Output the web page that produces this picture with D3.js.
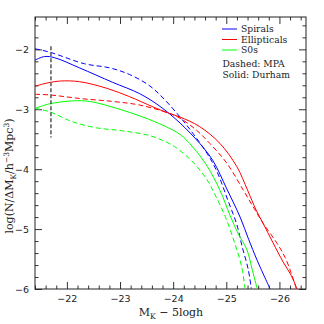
<!DOCTYPE html>
<html>
<head>
<meta charset="utf-8">
<script src="https://cdn.jsdelivr.net/npm/d3@7"></script>
<style>
  body { margin: 0; background: #fff; }
  svg { display: block; }
</style>
</head>
<body>
<div id="chart"></div>
<script>
// luminosity functions, [M_K - 5logh, log(N/dM/h^-3Mpc^3)]
const spiralsDurham = [
  [-21.4, -2.18], [-21.58, -2.12], [-21.77, -2.14], [-22.24, -2.31], [-22.86, -2.55],
  [-23.37, -2.74], [-23.75, -2.95], [-24.13, -3.23], [-24.5, -3.57],
  [-24.75, -3.86], [-25.01, -4.33], [-25.26, -4.8], [-25.42, -5.17], [-25.58, -5.52],
  [-25.82, -5.99]
]
const spiralsMPA = [
  [-21.4, -1.99], [-21.69, -2.05], [-22.33, -2.24], [-22.81, -2.31], [-23.18, -2.42],
  [-23.56, -2.61], [-23.84, -2.84], [-24.13, -3.13], [-24.37, -3.4], [-24.64, -3.74],
  [-24.82, -4.03], [-25.03, -4.52], [-25.2, -4.93], [-25.3, -5.3], [-25.41, -5.66],
  [-25.47, -5.99]
]
const ellipticalsDurham = [
  [-21.4, -2.62], [-21.54, -2.58], [-21.86, -2.53], [-22.24, -2.54], [-22.75, -2.65],
  [-23.18, -2.79], [-23.62, -2.96], [-23.9, -3.06], [-24.13, -3.13], [-24.5, -3.29],
  [-24.88, -3.57], [-25.2, -3.96], [-25.4, -4.35], [-25.56, -4.68], [-25.69, -4.9],
  [-25.88, -5.23], [-26.07, -5.55], [-26.22, -5.77], [-26.33, -6.0]
]
const ellipticalsMPA = [
  [-21.4, -2.75], [-21.67, -2.76], [-22.24, -2.82], [-22.87, -2.87], [-23.37, -2.93],
  [-23.9, -3.06], [-24.13, -3.15], [-24.44, -3.35], [-24.69, -3.57], [-25.01, -3.9],
  [-25.32, -4.35], [-25.52, -4.65], [-25.69, -4.9], [-25.95, -5.23], [-26.11, -5.48],
  [-26.24, -5.78], [-26.32, -6.0]
]
const s0sDurham = [
  [-21.4, -2.985], [-21.67, -2.91], [-22.11, -2.86], [-22.43, -2.87], [-22.94, -2.985],
  [-23.43, -3.13], [-23.84, -3.28], [-24.13, -3.42], [-24.37, -3.63], [-24.64, -3.95],
  [-24.88, -4.35], [-25.07, -4.77], [-25.22, -5.07], [-25.39, -5.35], [-25.48, -5.65],
  [-25.58, -5.99]
]
const s0sMPA = [
  [-21.4, -2.985], [-21.67, -3.04], [-22.11, -3.21], [-22.56, -3.31], [-23.05, -3.36],
  [-23.56, -3.44], [-23.9, -3.56], [-24.07, -3.65], [-24.37, -3.88], [-24.64, -4.18],
  [-24.79, -4.43], [-24.98, -4.79], [-25.16, -5.24], [-25.29, -5.63], [-25.35, -5.99]
]

// completeness limit marker
const limitMag = -21.7
const limitLog = [-1.95, -3.47]

const legendNames = ['Spirals', 'Ellipticals', 'S0s']
const legendColors = ['#0000ff', '#ff0000', '#00ff00']
const legendNotes = ['Dashed: MPA', 'Solid: Durham']

const xTicks = [-22, -23, -24, -25, -26]
const yTicks = [-2, -3, -4, -5, -6]

const width = 324
const height = 324
const plotLeft = 35
const plotRight = 306
const plotTop = 17
const plotBottom = 289

const svg = d3
  .select('#chart')
  .append('svg')
  .attr('width', width)
  .attr('height', height)

const x = d3.scaleLinear().domain([-21.4, -26.5]).range([plotLeft, plotRight])
const y = d3.scaleLinear().domain([-6, -1.46]).range([plotBottom, plotTop])

const xMinor = d3.range(-21.4, -26.55, -0.2).filter(v => Math.abs(v - Math.round(v)) > 0.01)
const yMinor = d3.range(-6, -1.4, 0.2).filter(v => Math.abs(v - Math.round(v)) > 0.01)

svg.append('clipPath').attr('id', 'plot-clip')
  .append('rect')
  .attr('x', plotLeft).attr('y', plotTop)
  .attr('width', plotRight - plotLeft).attr('height', plotBottom - plotTop)

const tickColor = '#333'
const fmt = d3.format('d')

function styleAxis(g) {
  g.select('.domain').remove()
  g.selectAll('.tick line').attr('stroke', tickColor)
  g.selectAll('.tick text')
    .attr('fill', '#222')
    .style('font-family', '"DejaVu Sans", sans-serif')
    .style('font-size', '9.5px')
}

// bottom
svg.append('g').attr('transform', `translate(0,${plotBottom})`)
  .call(d3.axisBottom(x).tickValues(xTicks).tickSize(-7).tickPadding(6).tickFormat(fmt))
  .call(styleAxis)
svg.append('g').attr('transform', `translate(0,${plotBottom})`)
  .call(d3.axisBottom(x).tickValues(xMinor).tickSize(-3.5).tickFormat(''))
  .call(styleAxis)
// top
svg.append('g').attr('transform', `translate(0,${plotTop})`)
  .call(d3.axisTop(x).tickValues(xTicks).tickSize(-7).tickFormat(''))
  .call(styleAxis)
svg.append('g').attr('transform', `translate(0,${plotTop})`)
  .call(d3.axisTop(x).tickValues(xMinor).tickSize(-3.5).tickFormat(''))
  .call(styleAxis)
// left
svg.append('g').attr('transform', `translate(${plotLeft},0)`)
  .call(d3.axisLeft(y).tickValues(yTicks).tickSize(-7).tickPadding(6).tickFormat(fmt))
  .call(styleAxis)
svg.append('g').attr('transform', `translate(${plotLeft},0)`)
  .call(d3.axisLeft(y).tickValues(yMinor).tickSize(-3.5).tickFormat(''))
  .call(styleAxis)
// right
svg.append('g').attr('transform', `translate(${plotRight},0)`)
  .call(d3.axisRight(y).tickValues(yTicks).tickSize(-7).tickFormat(''))
  .call(styleAxis)
svg.append('g').attr('transform', `translate(${plotRight},0)`)
  .call(d3.axisRight(y).tickValues(yMinor).tickSize(-3.5).tickFormat(''))
  .call(styleAxis)

svg.append('rect')
  .attr('x', plotLeft).attr('y', plotTop)
  .attr('width', plotRight - plotLeft).attr('height', plotBottom - plotTop)
  .attr('fill', 'none')
  .attr('stroke', '#222')
  .attr('stroke-width', 1)

// smooth the sampled curves
const line = d3.line()
  .x(d => x(d[0]))
  .y(d => y(d[1]))
  .curve(d3.curveCatmullRom.alpha(0.5))

const series = [
  { data: spiralsMPA, color: legendColors[0], dashed: true },
  { data: ellipticalsMPA, color: legendColors[1], dashed: true },
  { data: s0sMPA, color: legendColors[2], dashed: true },
  { data: spiralsDurham, color: legendColors[0], dashed: false },
  { data: ellipticalsDurham, color: legendColors[1], dashed: false },
  { data: s0sDurham, color: legendColors[2], dashed: false },
]

const curves = svg.append('g').attr('clip-path', 'url(#plot-clip)')

curves.selectAll('path.lf')
  .data(series)
  .enter()
  .append('path')
  .attr('class', 'lf')
  .attr('fill', 'none')
  .attr('stroke', d => d.color)
  .attr('stroke-width', 1)
  .attr('stroke-dasharray', d => (d.dashed ? '5,3' : null))
  .attr('d', d => line(d.data))

curves.append('line')
  .attr('x1', x(limitMag)).attr('x2', x(limitMag))
  .attr('y1', y(limitLog[0])).attr('y2', y(limitLog[1]))
  .attr('stroke', '#555')
  .attr('stroke-width', 1.5)
  .attr('stroke-dasharray', '4,2')

// legend
const serif = '"DejaVu Serif", serif'
const legend = svg.append('g')
legend.selectAll('line')
  .data(legendNames)
  .enter()
  .append('line')
  .attr('x1', 222).attr('x2', 237)
  .attr('y1', (_, i) => 29 + i * 10.5)
  .attr('y2', (_, i) => 29 + i * 10.5)
  .attr('stroke', (_, i) => legendColors[i])
  .attr('stroke-width', 1)
legend.selectAll('text.name')
  .data(legendNames)
  .enter()
  .append('text')
  .attr('class', 'name')
  .attr('x', 241)
  .attr('y', (_, i) => 32.2 + i * 10.5)
  .style('font-family', serif)
  .style('font-size', '9.2px')
  .attr('fill', '#222')
  .text(d => d)
legend.selectAll('text.note')
  .data(legendNotes)
  .enter()
  .append('text')
  .attr('class', 'note')
  .attr('x', 222.5)
  .attr('y', (_, i) => 66.5 + i * 11)
  .style('font-family', serif)
  .style('font-size', '9.2px')
  .attr('fill', '#222')
  .text(d => d)

// axis titles
const xTitle = svg.append('text')
  .attr('x', 171)
  .attr('y', 316)
  .attr('text-anchor', 'middle')
  .style('font-family', serif)
  .style('font-size', '11px')
  .attr('fill', '#222')
xTitle.append('tspan').text('M')
xTitle.append('tspan').attr('dy', 2.5).style('font-size', '7.5px').text('K')
xTitle.append('tspan').attr('dy', -2.5).text(' \u2212 5logh')

const yTitle = svg.append('text')
  .attr('transform', 'translate(13,176) rotate(-90)')
  .attr('text-anchor', 'middle')
  .style('font-family', serif)
  .style('font-size', '11px')
  .attr('fill', '#222')
yTitle.append('tspan').text('log(N/\u0394M')
yTitle.append('tspan').attr('dy', 2.5).style('font-size', '7.5px').text('K')
yTitle.append('tspan').attr('dy', -2.5).text('/h')
yTitle.append('tspan').attr('dy', -4).style('font-size', '7.5px').text('\u22123')
yTitle.append('tspan').attr('dy', 4).text('Mpc')
yTitle.append('tspan').attr('dy', -4).style('font-size', '7.5px').text('3')
yTitle.append('tspan').attr('dy', 4).text(')')
</script>
</body>
</html>
